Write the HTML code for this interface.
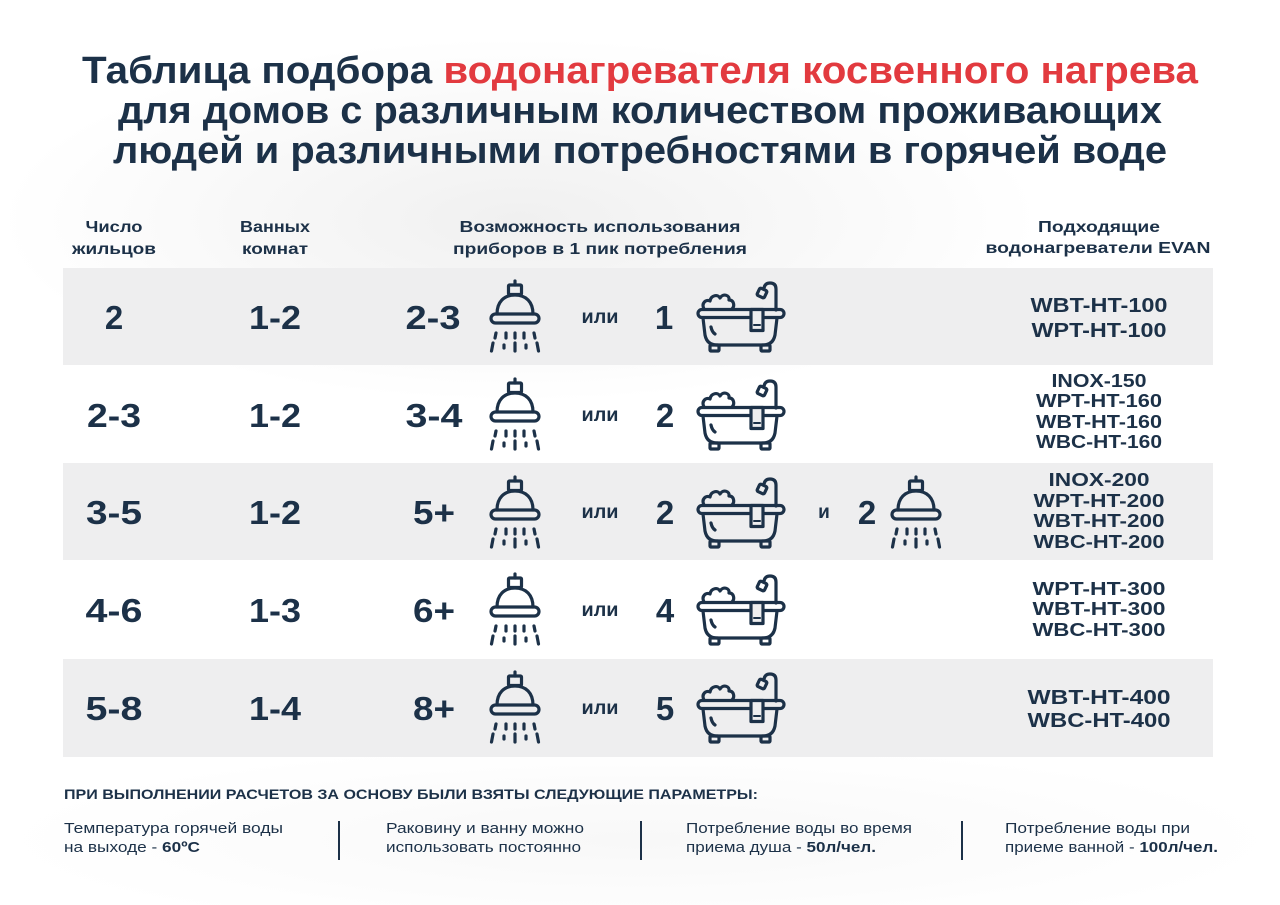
<!DOCTYPE html>
<html>
<head>
<meta charset="utf-8">
<style>
html,body{margin:0;padding:0;background:#fff;}
svg{display:block;}
text{font-family:"Liberation Sans","DejaVu Sans",sans-serif;fill:#1c3148;}
.b{font-weight:bold;}
</style>
</head>
<body>
<svg width="1280" height="905" viewBox="0 0 1280 905" xmlns="http://www.w3.org/2000/svg">
<defs>
  <radialGradient id="bg1" cx="520" cy="220" r="520" gradientUnits="userSpaceOnUse" gradientTransform="translate(520 220) scale(1 0.35) translate(-520 -220)">
    <stop offset="0" stop-color="#f0f0f0"/>
    <stop offset="1" stop-color="#ffffff"/>
  </radialGradient>
  <radialGradient id="bg2" cx="640" cy="840" r="640" gradientUnits="userSpaceOnUse" gradientTransform="translate(640 840) scale(1 0.15) translate(-640 -840)">
    <stop offset="0" stop-color="#f8f8f8"/>
    <stop offset="1" stop-color="#ffffff"/>
  </radialGradient>
  <g id="shower" fill="none" stroke="#1c3148" stroke-width="3.2" stroke-linecap="round" stroke-linejoin="round">
    <line x1="26" y1="1" x2="26" y2="5"/>
    <rect x="19.5" y="5" width="13" height="9.5" rx="1"/>
    <path d="M8 34 C8 22 15 15 26 15 C37 15 44 22 44 34"/>
    <rect x="2" y="34" width="48" height="9" rx="4.5"/>
    <line x1="7" y1="53" x2="6" y2="58"/>
    <line x1="17" y1="53" x2="17" y2="58"/>
    <line x1="26" y1="53" x2="26" y2="58"/>
    <line x1="35" y1="53" x2="35" y2="58"/>
    <line x1="45" y1="53" x2="46" y2="58"/>
    <line x1="4" y1="63" x2="2.5" y2="71"/>
    <line x1="15" y1="65" x2="15" y2="68"/>
    <line x1="26" y1="63" x2="26" y2="71"/>
    <line x1="37" y1="65" x2="37" y2="68"/>
    <line x1="48" y1="63" x2="49.5" y2="71"/>
  </g>
  <g id="bath" fill="none" stroke="#1c3148" stroke-width="3.2" stroke-linecap="round" stroke-linejoin="round">
    <path d="M8 29 C5 23 10 19 14 21 C15 15 22 14 24 18 C27 13 34 15 33 20 C38 20 39 26 36 29"/>
    <path d="M80 30 L80 9 Q80 3 74 3 Q69 3 68 8"/>
    <rect x="62" y="9" width="8" height="8" rx="1.5" transform="rotate(25 66 13)"/>
    <rect x="2" y="29.5" width="86" height="8" rx="4"/>
    <path d="M7 38 L9 55 Q11 65 21 65 L67 65 Q77 65 79 55 L81 38"/>
    <rect x="14" y="65" width="9" height="6" rx="1"/>
    <rect x="65" y="65" width="9" height="6" rx="1"/>
    <path d="M15 47 Q16 52 19 54"/>
    <rect x="55" y="29.5" width="12" height="21" fill="#eeeeef"/>
    <line x1="58" y1="45" x2="64" y2="45" stroke-width="2"/>
  </g>
</defs>

<rect x="0" y="0" width="1280" height="905" fill="#fff"/>
<rect x="0" y="0" width="1280" height="905" fill="url(#bg1)"/>
<rect x="0" y="700" width="1280" height="205" fill="url(#bg2)"/>

<!-- Title -->
<text class="b" x="640" y="83" font-size="38" text-anchor="middle" textLength="1116" lengthAdjust="spacingAndGlyphs">Таблица подбора <tspan style="fill:#e23a3f">водонагревателя косвенного нагрева</tspan></text>
<text class="b" x="640" y="123" font-size="38" text-anchor="middle" textLength="1044" lengthAdjust="spacingAndGlyphs">для домов с различным количеством проживающих</text>
<text class="b" x="640" y="163" font-size="38" text-anchor="middle" textLength="1054" lengthAdjust="spacingAndGlyphs">людей и различными потребностями в горячей воде</text>

<!-- Headers -->
<g font-size="16">
<text class="b" x="114" y="232" text-anchor="middle" textLength="57" lengthAdjust="spacingAndGlyphs">Число</text>
<text class="b" x="114" y="254" text-anchor="middle" textLength="84" lengthAdjust="spacingAndGlyphs">жильцов</text>
<text class="b" x="275" y="232" text-anchor="middle" textLength="70" lengthAdjust="spacingAndGlyphs">Ванных</text>
<text class="b" x="275" y="254" text-anchor="middle" textLength="66" lengthAdjust="spacingAndGlyphs">комнат</text>
<text class="b" x="600" y="232" text-anchor="middle" textLength="281" lengthAdjust="spacingAndGlyphs">Возможность использования</text>
<text class="b" x="600" y="254" text-anchor="middle" textLength="294" lengthAdjust="spacingAndGlyphs">приборов в 1 пик потребления</text>
<text class="b" x="1099" y="232" text-anchor="middle" textLength="122" lengthAdjust="spacingAndGlyphs">Подходящие</text>
<text class="b" x="1098" y="253" text-anchor="middle" textLength="225" lengthAdjust="spacingAndGlyphs">водонагреватели EVAN</text>
</g>

<!-- Row bands -->
<rect x="63" y="268" width="1150" height="97" fill="#eeeeef"/>
<rect x="63" y="463" width="1150" height="97" fill="#eeeeef"/>
<rect x="63" y="659" width="1150" height="98" fill="#eeeeef"/>

<!-- Row 1 -->
<g font-size="33" class="b">
<text class="b" x="114" y="329" text-anchor="middle">2</text>
<text class="b" x="275" y="329" text-anchor="middle" textLength="52" lengthAdjust="spacingAndGlyphs">1-2</text>
<text class="b" x="433" y="329" text-anchor="middle" textLength="55" lengthAdjust="spacingAndGlyphs">2-3</text>
<text class="b" x="664" y="329" text-anchor="middle">1</text>
</g>
<text class="b" x="600" y="323" font-size="19" text-anchor="middle" textLength="37" lengthAdjust="spacingAndGlyphs">или</text>
<use href="#shower" x="489" y="280"/>
<use href="#bath" x="696" y="280"/>
<text class="b" x="1099" y="312" font-size="20" text-anchor="middle" textLength="137" lengthAdjust="spacingAndGlyphs">WBT-HT-100</text>
<text class="b" x="1099" y="337" font-size="20" text-anchor="middle" textLength="135" lengthAdjust="spacingAndGlyphs">WPT-HT-100</text>

<!-- Row 2 -->
<text class="b" x="114" y="427" font-size="33" text-anchor="middle" textLength="54" lengthAdjust="spacingAndGlyphs">2-3</text>
<text class="b" x="275" y="427" font-size="33" text-anchor="middle" textLength="52" lengthAdjust="spacingAndGlyphs">1-2</text>
<text class="b" x="434" y="427" font-size="33" text-anchor="middle" textLength="57" lengthAdjust="spacingAndGlyphs">3-4</text>
<text class="b" x="600" y="421" font-size="19" text-anchor="middle" textLength="37" lengthAdjust="spacingAndGlyphs">или</text>
<text class="b" x="665" y="427" font-size="33" text-anchor="middle">2</text>
<use href="#shower" x="489" y="378"/>
<use href="#bath" x="696" y="378"/>
<g font-size="18.5">
<text class="b" x="1099" y="387" text-anchor="middle" textLength="95" lengthAdjust="spacingAndGlyphs">INOX-150</text>
<text class="b" x="1099" y="407" text-anchor="middle" textLength="126" lengthAdjust="spacingAndGlyphs">WPT-HT-160</text>
<text class="b" x="1099" y="428" text-anchor="middle" textLength="126" lengthAdjust="spacingAndGlyphs">WBT-HT-160</text>
<text class="b" x="1099" y="448" text-anchor="middle" textLength="126" lengthAdjust="spacingAndGlyphs">WBC-HT-160</text>
</g>

<!-- Row 3 -->
<text class="b" x="114" y="524" font-size="33" text-anchor="middle" textLength="56" lengthAdjust="spacingAndGlyphs">3-5</text>
<text class="b" x="275" y="524" font-size="33" text-anchor="middle" textLength="52" lengthAdjust="spacingAndGlyphs">1-2</text>
<text class="b" x="434" y="524" font-size="33" text-anchor="middle" textLength="42" lengthAdjust="spacingAndGlyphs">5+</text>
<text class="b" x="600" y="518" font-size="19" text-anchor="middle" textLength="37" lengthAdjust="spacingAndGlyphs">или</text>
<text class="b" x="665" y="524" font-size="33" text-anchor="middle">2</text>
<text class="b" x="824" y="518" font-size="19" text-anchor="middle">и</text>
<text class="b" x="867" y="524" font-size="33" text-anchor="middle">2</text>
<use href="#shower" x="489" y="476"/>
<use href="#bath" x="696" y="476"/>
<use href="#shower" x="890" y="476"/>
<g font-size="18.5">
<text class="b" x="1099" y="486" text-anchor="middle" textLength="101" lengthAdjust="spacingAndGlyphs">INOX-200</text>
<text class="b" x="1099" y="507" text-anchor="middle" textLength="131" lengthAdjust="spacingAndGlyphs">WPT-HT-200</text>
<text class="b" x="1099" y="527" text-anchor="middle" textLength="131" lengthAdjust="spacingAndGlyphs">WBT-HT-200</text>
<text class="b" x="1099" y="548" text-anchor="middle" textLength="131" lengthAdjust="spacingAndGlyphs">WBC-HT-200</text>
</g>

<!-- Row 4 -->
<text class="b" x="114" y="622" font-size="33" text-anchor="middle" textLength="57" lengthAdjust="spacingAndGlyphs">4-6</text>
<text class="b" x="275" y="622" font-size="33" text-anchor="middle" textLength="52" lengthAdjust="spacingAndGlyphs">1-3</text>
<text class="b" x="434" y="622" font-size="33" text-anchor="middle" textLength="42" lengthAdjust="spacingAndGlyphs">6+</text>
<text class="b" x="600" y="616" font-size="19" text-anchor="middle" textLength="37" lengthAdjust="spacingAndGlyphs">или</text>
<text class="b" x="665" y="622" font-size="33" text-anchor="middle">4</text>
<use href="#shower" x="489" y="573"/>
<use href="#bath" x="696" y="573"/>
<g font-size="18.5">
<text class="b" x="1099" y="595" text-anchor="middle" textLength="133" lengthAdjust="spacingAndGlyphs">WPT-HT-300</text>
<text class="b" x="1099" y="615" text-anchor="middle" textLength="133" lengthAdjust="spacingAndGlyphs">WBT-HT-300</text>
<text class="b" x="1099" y="636" text-anchor="middle" textLength="133" lengthAdjust="spacingAndGlyphs">WBC-HT-300</text>
</g>

<!-- Row 5 -->
<text class="b" x="114" y="720" font-size="33" text-anchor="middle" textLength="57" lengthAdjust="spacingAndGlyphs">5-8</text>
<text class="b" x="275" y="720" font-size="33" text-anchor="middle" textLength="52" lengthAdjust="spacingAndGlyphs">1-4</text>
<text class="b" x="434" y="720" font-size="33" text-anchor="middle" textLength="42" lengthAdjust="spacingAndGlyphs">8+</text>
<text class="b" x="600" y="714" font-size="19" text-anchor="middle" textLength="37" lengthAdjust="spacingAndGlyphs">или</text>
<text class="b" x="665" y="720" font-size="33" text-anchor="middle">5</text>
<use href="#shower" x="489" y="671"/>
<use href="#bath" x="696" y="671"/>
<text class="b" x="1099" y="704" font-size="20" text-anchor="middle" textLength="143" lengthAdjust="spacingAndGlyphs">WBT-HT-400</text>
<text class="b" x="1099" y="727" font-size="20" text-anchor="middle" textLength="143" lengthAdjust="spacingAndGlyphs">WBC-HT-400</text>

<!-- Footer -->
<text class="b" x="64" y="799" font-size="14" textLength="694" lengthAdjust="spacingAndGlyphs">ПРИ ВЫПОЛНЕНИИ РАСЧЕТОВ ЗА ОСНОВУ БЫЛИ ВЗЯТЫ СЛЕДУЮЩИЕ ПАРАМЕТРЫ:</text>
<g font-size="15">
<text x="64" y="833" textLength="219" lengthAdjust="spacingAndGlyphs">Температура горячей воды</text>
<text x="64" y="852" textLength="136" lengthAdjust="spacingAndGlyphs">на выходе - <tspan font-weight="bold">60ºС</tspan></text>
<text x="386" y="833" textLength="198" lengthAdjust="spacingAndGlyphs">Раковину и ванну можно</text>
<text x="386" y="852" textLength="195" lengthAdjust="spacingAndGlyphs">использовать постоянно</text>
<text x="686" y="833" textLength="226" lengthAdjust="spacingAndGlyphs">Потребление воды во время</text>
<text x="686" y="852" textLength="190" lengthAdjust="spacingAndGlyphs">приема душа - <tspan font-weight="bold">50л/чел.</tspan></text>
<text x="1005" y="833" textLength="185" lengthAdjust="spacingAndGlyphs">Потребление воды при</text>
<text x="1005" y="852" textLength="213" lengthAdjust="spacingAndGlyphs">приеме ванной - <tspan font-weight="bold">100л/чел.</tspan></text>
</g>
<g stroke="#1c3148" stroke-width="2">
<line x1="339" y1="821" x2="339" y2="860"/>
<line x1="641" y1="821" x2="641" y2="860"/>
<line x1="962" y1="821" x2="962" y2="860"/>
</g>
</svg>
</body>
</html>
